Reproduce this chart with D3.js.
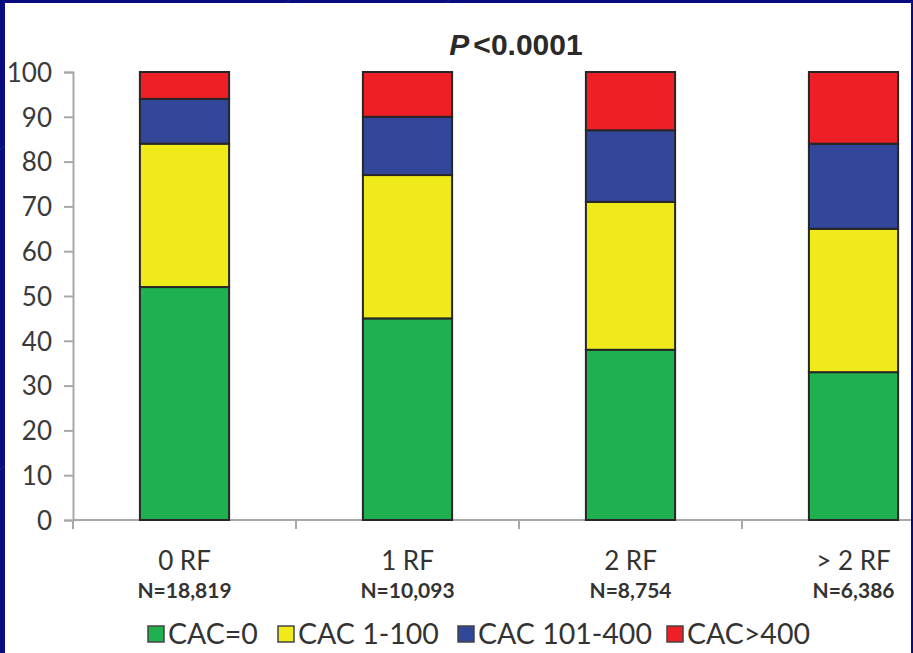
<!DOCTYPE html>
<html>
<head>
<meta charset="utf-8">
<script src="https://cdn.jsdelivr.net/npm/d3@7"></script>
<style>
  html, body { margin: 0; padding: 0; background: #0b0b80; }
  svg { display: block; }
</style>
</head>
<body>
<svg id="chart" width="913" height="653"></svg>
<script>
// ---- data ----
const categories = ["0 RF", "1 RF", "2 RF", "> 2 RF"];
const sampleSizes = ["N=18,819", "N=10,093", "N=8,754", "N=6,386"];
const seriesNames = ["CAC=0", "CAC 1-100", "CAC 101-400", "CAC>400"];
const cac0      = [52, 45, 38, 33];
const cac1to100 = [32, 32, 33, 32];
const cac101to400 = [10, 13, 16, 19];
const cacOver400  = [6, 10, 13, 16];
const yTicks = [0, 10, 20, 30, 40, 50, 60, 70, 80, 90, 100];
const titleP = "P";
const titleRest = "<0.0001";
const colors = ["#1fb04f", "#f0ea1a", "#32469a", "#ee1f26"];

// ---- layout ----
const svg = d3.select("#chart");
const W = 913, H = 653;

// background frame
svg.append("rect").attr("x", 0).attr("y", 0).attr("width", W).attr("height", H).attr("fill", "#0b0b80");
const bgLines = svg.append("g").attr("stroke", "#3a3aa8").attr("stroke-width", 1).attr("opacity", 0.5);
[[0, 150, 40, 110], [0, 470, 10, 460], [280, 8, 290, 0], [440, 8, 450, 0]].forEach(l => {
  bgLines.append("line").attr("x1", l[0]).attr("y1", l[1]).attr("x2", l[2]).attr("y2", l[3]);
});
svg.append("rect").attr("x", 5).attr("y", 3).attr("width", 906).attr("height", H - 3).attr("fill", "#ffffff");

const plot = { left: 73, top: 72, bottom: 520, right: 965 };

const x = d3.scaleBand().domain(categories).range([plot.left, plot.right]).padding(0);
const y = d3.scaleLinear().domain([0, 100]).range([plot.bottom, plot.top]);

const table = categories.map((c, i) => ({
  cat: c,
  [seriesNames[0]]: cac0[i],
  [seriesNames[1]]: cac1to100[i],
  [seriesNames[2]]: cac101to400[i],
  [seriesNames[3]]: cacOver400[i]
}));
const stacked = d3.stack().keys(seriesNames)(table);
const color = d3.scaleOrdinal().domain(seriesNames).range(colors);

svg.append("clipPath").attr("id", "panel")
  .append("rect").attr("x", 5).attr("y", 3).attr("width", 906).attr("height", H - 3);
const g = svg.append("g").attr("clip-path", "url(#panel)");

// axes
const axisColor = "#a8a8a8";
const yAxis = g.append("g").attr("transform", `translate(${plot.left},0)`)
  .call(d3.axisLeft(y).tickValues(yTicks).tickSize(9).tickPadding(12));
yAxis.select(".domain").attr("stroke", axisColor).attr("stroke-width", 2);
yAxis.selectAll(".tick line").attr("stroke", axisColor).attr("stroke-width", 2);
yAxis.selectAll(".tick text")
  .attr("font-family", "Lato, 'Open Sans', sans-serif").attr("font-size", 26)
  .attr("fill", "#3a3a3a").attr("dy", "0.36em");

// x axis line + boundary ticks
g.append("line").attr("x1", plot.left).attr("x2", plot.right)
  .attr("y1", y(0)).attr("y2", y(0)).attr("stroke", axisColor).attr("stroke-width", 2);
const boundaries = categories.map(c => x(c)).concat([x(categories[categories.length - 1]) + x.bandwidth()]);
g.selectAll(".xtick").data(boundaries).join("line")
  .attr("x1", d => d).attr("x2", d => d)
  .attr("y1", y(0)).attr("y2", y(0) + 9)
  .attr("stroke", axisColor).attr("stroke-width", 2);

// bars
const barW = x.bandwidth() * 0.4;
const barOff = (x.bandwidth() - barW) / 2;
g.selectAll(".series").data(stacked).join("g")
  .attr("fill", d => color(d.key))
  .selectAll("rect").data(d => d).join("rect")
  .attr("x", d => x(d.data.cat) + barOff)
  .attr("width", barW)
  .attr("y", d => y(d[1]))
  .attr("height", d => y(d[0]) - y(d[1]))
  .attr("stroke", "#262626").attr("stroke-width", 2);

// category labels
g.selectAll(".cat").data(categories).join("text")
  .attr("x", d => x(d) + x.bandwidth() / 2)
  .attr("y", 570)
  .attr("text-anchor", "middle")
  .attr("font-family", "Lato, 'Open Sans', sans-serif").attr("font-size", 26)
  .attr("fill", "#333")
  .text(d => d);
g.selectAll(".nlab").data(sampleSizes).join("text")
  .attr("x", (d, i) => x(categories[i]) + x.bandwidth() / 2)
  .attr("y", 598)
  .attr("text-anchor", "middle")
  .attr("font-family", "Lato, 'Open Sans', sans-serif").attr("font-size", 21).attr("font-weight", "bold")
  .attr("fill", "#333")
  .text(d => d);

// title
const title = svg.append("text")
  .attr("x", 516).attr("y", 55).attr("text-anchor", "middle")
  .attr("font-family", "'Liberation Sans', Arial, sans-serif").attr("font-size", 30)
  .attr("font-weight", "bold").attr("fill", "#2a2a2a");
title.append("tspan").attr("font-style", "italic").text(titleP);
title.append("tspan").attr("dx", 4).text(titleRest);

// legend
const legendX = [148, 278, 458, 667];
const legend = svg.append("g");
seriesNames.forEach((name, i) => {
  legend.append("rect")
    .attr("x", legendX[i]).attr("y", 626).attr("width", 16).attr("height", 16)
    .attr("fill", colors[i]).attr("stroke", "#444").attr("stroke-width", 1.5);
  legend.append("text")
    .attr("x", legendX[i] + 20).attr("y", 644)
    .attr("font-family", "Lato, 'Open Sans', sans-serif").attr("font-size", 28.5)
    .attr("fill", "#333")
    .text(name);
});
</script>
</body>
</html>
